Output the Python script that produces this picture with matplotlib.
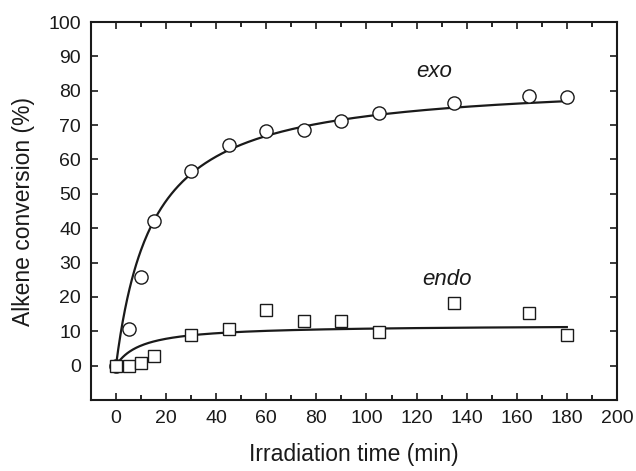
import numpy as np
import matplotlib
matplotlib.use("Agg")
import matplotlib.pyplot as plt
from matplotlib.ticker import MultipleLocator

plt.rcParams['font.family'] = ['Liberation Sans', 'DejaVu Sans']

# data
exo_time = [0, 5, 10, 15, 30, 45, 60, 75, 90, 105, 135, 165, 180]
exo_conv = [0, 10.7, 25.9, 42.1, 56.6, 64.1, 68.2, 68.7, 71.3, 73.4, 76.5, 78.6, 78.1]
endo_time = [0, 5, 10, 15, 30, 45, 60, 75, 90, 105, 135, 165, 180]
endo_conv = [0, 0, 0.8, 2.8, 9.0, 10.5, 16.2, 13.1, 13.1, 9.9, 18.3, 15.2, 9.0]

# fitted hyperbolic curves y = a*t/(b+t), parameters
exo_fit = (83.3, 14.75)
endo_fit = (11.85, 10.4)

x_ticks = list(range(0, 201, 20))
y_ticks = list(range(0, 101, 10))

fig = plt.figure(figsize=(6.36, 4.71), dpi=100)
ax = fig.add_axes([0.143, 0.151, 0.827, 0.802])

t = np.linspace(0, 180, 400)
for (a, b) in (exo_fit, endo_fit):
    ax.plot(t, a * t / (b + t), color='#1a1a1a', lw=1.6, zorder=2)

ax.plot(exo_time, exo_conv, 'o', ms=9.5, mfc='white', mec='#1a1a1a', mew=1.0, ls='none', zorder=3)
ax.plot(endo_time, endo_conv, 's', ms=8.5, mfc='white', mec='#1a1a1a', mew=1.0, ls='none', zorder=3)

ax.text(127, 85.6, 'exo', style='italic', fontsize=16, ha='center', va='center', color='#1a1a1a')
ax.text(132, 25.2, 'endo', style='italic', fontsize=16, ha='center', va='center', color='#1a1a1a')

ax.set_xlim(-10, 200)
ax.set_ylim(-10, 100)
ax.set_xticks(x_ticks)
ax.set_yticks(y_ticks)
ax.xaxis.set_minor_locator(MultipleLocator(10))
ax.tick_params(axis='both', which='major', direction='in', length=5, width=1.2,
               labelsize=14, top=True, right=True, colors='#1a1a1a', pad=7)
ax.tick_params(axis='x', which='minor', direction='in', length=3.4, width=1.2, top=True)
for s in ax.spines.values():
    s.set_linewidth(1.5)
    s.set_color('#1a1a1a')

ax.set_xlabel('Irradiation time (min)', fontsize=16.5, color='#1a1a1a', labelpad=12)
ax.set_ylabel('Alkene conversion (%)', fontsize=16.5, color='#1a1a1a', labelpad=10)

fig.savefig('out.png', dpi=100)
